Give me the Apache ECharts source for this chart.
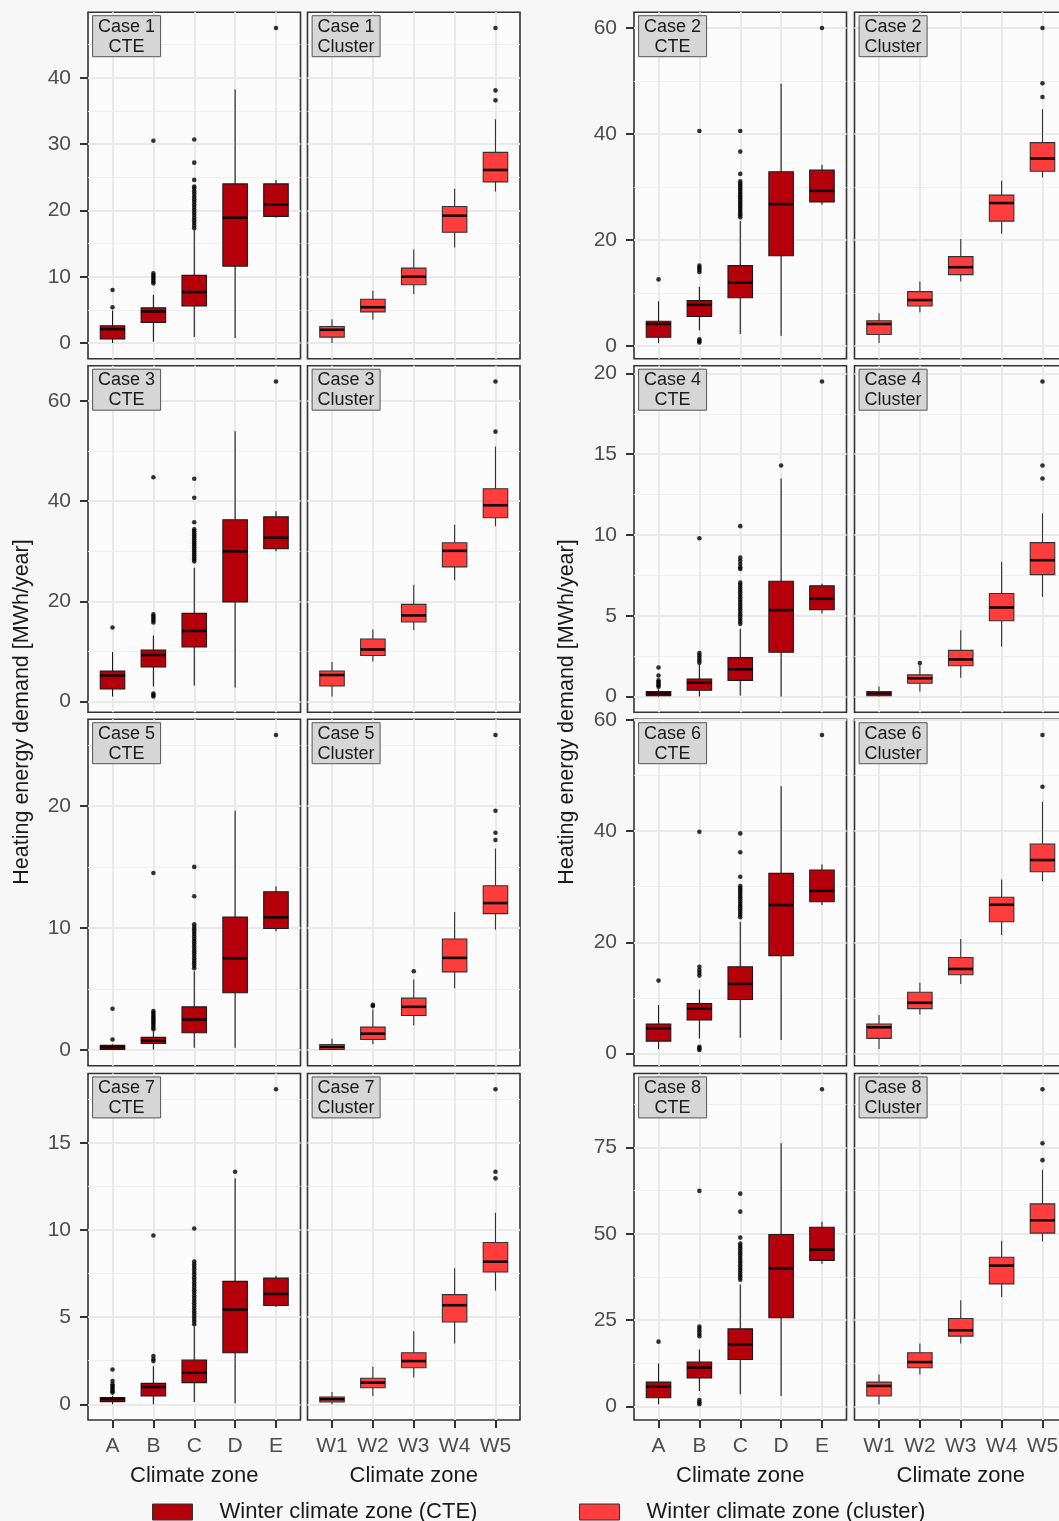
<!DOCTYPE html>
<html>
<head>
<meta charset="utf-8">
<script src="https://cdn.jsdelivr.net/npm/echarts@6/dist/echarts.min.js"></script>
<style>
  html, body { margin: 0; padding: 0; background: #f7f7f7; }
  #chart { width: 1059px; height: 1521px; }
</style>
</head>
<body>
<div id="chart"></div>
<script>
// ---- Categories --------------------------------------------------------
const zonesCTE = ['A', 'B', 'C', 'D', 'E'];
const zonesCluster = ['W1', 'W2', 'W3', 'W4', 'W5'];

// ---- Heating energy demand [MWh/year] ----------------------------------
// Boxes: [lower whisker, Q1, median, Q3, upper whisker] per climate zone.
// Outliers: one list of points per climate zone.

const case1CteBoxes = [[0.0, 0.6, 2.1, 2.6, 4.9], [0.2, 3.1, 4.75, 5.3, 7.3], [0.9, 5.6, 7.7, 10.2, 17.0], [0.75, 11.6, 18.9, 24.0, 38.25], [18.9, 19.1, 20.9, 24.0, 24.6]];
const case1CteOutliers = [[5.4, 8.0], [9.0, 9.3, 9.6, 9.9, 10.2, 10.5, 30.5], [17.3, 17.7, 18.1, 18.5, 18.9, 19.3, 19.7, 20.1, 20.5, 20.9, 21.3, 21.7, 22.1, 22.5, 22.9, 23.3, 23.6, 24.6, 27.2, 30.7], [], [47.5]];
const case1ClusterBoxes = [[0.0, 0.9, 2.0, 2.5, 3.6], [3.5, 4.7, 5.4, 6.6, 7.9], [7.4, 8.8, 10.0, 11.3, 14.1], [14.4, 16.7, 19.2, 20.6, 23.25], [22.85, 24.3, 26.1, 28.75, 33.75]];
const case1ClusterOutliers = [[], [], [], [], [36.6, 38.1, 47.5]];

const case2CteBoxes = [[0.6, 1.7, 4.2, 4.7, 8.5], [3.0, 5.6, 7.8, 8.6, 11.2], [2.3, 9.15, 12.0, 15.2, 23.6], [2.0, 17.05, 26.8, 32.9, 49.5], [26.7, 27.2, 29.3, 33.2, 34.2]];
const case2CteOutliers = [[12.6], [0.7, 1.0, 1.3, 14.0, 14.4, 14.8, 15.2, 40.6], [24.3, 24.7, 25.1, 25.5, 25.9, 26.3, 26.7, 27.1, 27.5, 27.9, 28.3, 28.7, 29.1, 29.5, 29.9, 30.3, 30.7, 31.1, 32.5, 36.7, 40.6], [], [60.0]];
const case2ClusterBoxes = [[0.6, 2.2, 4.2, 4.8, 6.2], [6.4, 7.6, 8.7, 10.3, 12.2], [12.2, 13.5, 14.9, 16.9, 20.2], [21.25, 23.6, 27.0, 28.5, 31.2], [31.8, 33.0, 35.4, 38.4, 44.7]];
const case2ClusterOutliers = [[], [], [], [], [47.0, 49.6, 60.0]];

const case3CteBoxes = [[1.0, 2.5, 5.2, 6.1, 9.9], [3.0, 6.9, 9.3, 10.3, 13.2], [3.2, 10.9, 14.1, 17.6, 26.7], [2.8, 19.9, 30.0, 36.3, 54.0], [30.0, 30.5, 32.7, 36.9, 38.0]];
const case3CteOutliers = [[14.8], [1.0, 1.3, 1.6, 15.8, 16.2, 16.6, 17.0, 17.4, 44.8], [28.0, 28.4, 28.8, 29.2, 29.6, 30.0, 30.4, 30.8, 31.2, 31.6, 32.0, 32.4, 32.8, 33.2, 33.6, 34.0, 34.4, 35.8, 40.7, 44.5], [], [63.9]];
const case3ClusterBoxes = [[1.0, 3.1, 5.3, 6.1, 7.9], [8.0, 9.2, 10.4, 12.5, 14.4], [14.3, 15.9, 17.2, 19.4, 23.3], [24.2, 26.9, 30.1, 31.7, 35.3], [35.0, 36.7, 39.2, 42.5, 50.9]];
const case3ClusterOutliers = [[], [], [], [], [53.9, 63.9]];

const case4CteBoxes = [[0.0, 0.06, 0.19, 0.31, 0.45], [0.0, 0.39, 0.86, 1.09, 2.0], [0.06, 1.0, 1.69, 2.41, 4.2], [0.0, 2.74, 5.35, 7.14, 13.5], [5.14, 5.37, 6.05, 6.85, 6.98]];
const case4CteOutliers = [[0.6, 0.7, 0.8, 0.9, 1.0, 1.3, 1.8], [2.1, 2.25, 2.4, 2.55, 2.7, 9.8], [4.5, 4.65, 4.8, 4.95, 5.1, 5.25, 5.4, 5.55, 5.7, 5.85, 6.0, 6.15, 6.3, 6.45, 6.6, 6.75, 6.9, 7.05, 7.9, 8.0, 8.2, 8.4, 8.6, 10.55], [14.3], [19.5]];
const case4ClusterBoxes = [[0.0, 0.06, 0.19, 0.31, 0.62], [0.31, 0.82, 1.13, 1.34, 1.95], [1.17, 1.91, 2.3, 2.86, 4.1], [3.09, 4.69, 5.51, 6.38, 8.33], [6.17, 7.55, 8.44, 9.53, 11.34]];
const case4ClusterOutliers = [[], [2.08], [], [], [13.5, 14.3, 19.5]];

const case5CteBoxes = [[0.0, 0.05, 0.22, 0.38, 0.46], [0.05, 0.54, 0.76, 1.04, 1.55], [0.19, 1.42, 2.5, 3.54, 6.46], [0.19, 4.69, 7.52, 10.9, 19.6], [9.73, 9.95, 10.87, 12.97, 13.4]];
const case5CteOutliers = [[0.87, 3.38], [1.7, 1.85, 2.0, 2.15, 2.3, 2.45, 2.6, 2.75, 2.9, 3.05, 3.2, 14.5], [6.7, 6.9, 7.1, 7.3, 7.5, 7.7, 7.9, 8.1, 8.3, 8.5, 8.7, 8.9, 9.1, 9.3, 9.5, 9.7, 9.9, 10.1, 10.3, 12.6, 15.0], [], [25.8]];
const case5ClusterBoxes = [[0.0, 0.05, 0.25, 0.46, 0.93], [0.49, 0.87, 1.34, 1.88, 3.32], [2.04, 2.83, 3.54, 4.25, 5.78], [5.07, 6.4, 7.55, 9.1, 11.3], [9.86, 11.17, 12.04, 13.46, 16.5]];
const case5ClusterOutliers = [[], [3.6, 3.7], [6.46], [], [17.2, 17.8, 19.6, 25.8]];

const case6CteBoxes = [[0.8, 2.2, 4.5, 5.3, 8.7], [2.7, 6.0, 8.06, 8.96, 11.5], [2.8, 9.7, 12.5, 15.6, 23.7], [2.4, 17.6, 26.7, 32.4, 48.1], [26.7, 27.3, 29.25, 33.0, 34.0]];
const case6CteOutliers = [[13.1], [0.6, 0.9, 1.2, 14.0, 14.5, 15.0, 15.6, 39.9], [24.5, 24.9, 25.3, 25.7, 26.1, 26.5, 26.9, 27.3, 27.7, 28.1, 28.5, 28.9, 29.3, 29.7, 30.1, 31.8, 36.2, 39.6], [], [57.3]];
const case6ClusterBoxes = [[0.8, 2.7, 4.7, 5.3, 6.9], [7.0, 8.06, 9.1, 11.0, 12.7], [12.5, 14.15, 15.2, 17.25, 20.6], [21.3, 23.7, 26.75, 28.1, 31.3], [31.0, 32.7, 34.8, 37.7, 45.3]];
const case6ClusterOutliers = [[], [], [], [], [48.0, 57.3]];

const case7CteBoxes = [[0.0, 0.15, 0.29, 0.38, 0.48], [0.0, 0.48, 0.99, 1.2, 2.19], [0.13, 1.24, 1.81, 2.54, 4.48], [0.06, 2.96, 5.44, 7.06, 12.98], [5.59, 5.67, 6.34, 7.25, 7.39]];
const case7CteOutliers = [[0.67, 0.75, 0.85, 0.95, 1.05, 1.15, 1.34, 2.0], [2.48, 2.6, 2.77, 9.7], [4.6, 4.75, 4.9, 5.05, 5.2, 5.35, 5.5, 5.65, 5.8, 5.95, 6.1, 6.25, 6.4, 6.55, 6.7, 6.85, 7.0, 7.15, 7.3, 7.45, 7.6, 7.75, 7.9, 8.05, 8.2, 10.1], [13.36], [18.1]];
const case7ClusterBoxes = [[0.0, 0.13, 0.29, 0.42, 0.71], [0.48, 0.95, 1.24, 1.49, 2.16], [1.53, 2.1, 2.48, 2.96, 4.2], [3.49, 4.73, 5.69, 6.3, 7.82], [6.53, 7.6, 8.19, 9.29, 11.0]];
const case7ClusterOutliers = [[], [], [], [], [12.98, 13.36, 18.1]];

const case8CteBoxes = [[0.7, 2.6, 5.8, 7.1, 12.5], [4.5, 8.3, 11.3, 12.9, 16.5], [3.6, 13.65, 18.0, 22.5, 35.3], [3.1, 25.7, 40.0, 49.8, 76.2], [41.3, 42.3, 45.4, 51.9, 53.5]];
const case8CteOutliers = [[18.8], [0.7, 1.3, 1.9, 20.4, 21.1, 21.8, 22.5, 23.2, 62.4], [36.7, 37.4, 38.1, 38.8, 39.5, 40.2, 40.9, 41.6, 42.3, 43.0, 43.7, 44.4, 45.1, 45.8, 46.5, 47.2, 48.9, 56.4, 61.6], [], [91.8]];
const case8ClusterBoxes = [[0.7, 3.1, 6.0, 7.1, 9.3], [9.3, 11.25, 12.9, 15.6, 18.3], [18.3, 20.4, 22.1, 25.5, 30.8], [31.7, 35.5, 40.8, 43.2, 48.0], [47.8, 50.2, 53.9, 58.65, 68.5]];
const case8ClusterOutliers = [[], [], [], [], [71.3, 76.2, 91.8]];

// ---- Y tick labels per case --------------------------------------------
const case1Ticks = [0, 10, 20, 30, 40];
const case2Ticks = [0, 20, 40, 60];
const case3Ticks = [0, 20, 40, 60];
const case4Ticks = [0, 5, 10, 15, 20];
const case5Ticks = [0, 10, 20];
const case6Ticks = [0, 20, 40, 60];
const case7Ticks = [0, 5, 10, 15];
const case8Ticks = [0, 25, 50, 75];

const seriesNames = { cte: 'Winter climate zone (CTE)', cluster: 'Winter climate zone (cluster)' };

const cases = [
  { name: 'Case 1', cte: [case1CteBoxes, case1CteOutliers], cluster: [case1ClusterBoxes, case1ClusterOutliers], ticks: case1Ticks },
  { name: 'Case 2', cte: [case2CteBoxes, case2CteOutliers], cluster: [case2ClusterBoxes, case2ClusterOutliers], ticks: case2Ticks },
  { name: 'Case 3', cte: [case3CteBoxes, case3CteOutliers], cluster: [case3ClusterBoxes, case3ClusterOutliers], ticks: case3Ticks },
  { name: 'Case 4', cte: [case4CteBoxes, case4CteOutliers], cluster: [case4ClusterBoxes, case4ClusterOutliers], ticks: case4Ticks },
  { name: 'Case 5', cte: [case5CteBoxes, case5CteOutliers], cluster: [case5ClusterBoxes, case5ClusterOutliers], ticks: case5Ticks },
  { name: 'Case 6', cte: [case6CteBoxes, case6CteOutliers], cluster: [case6ClusterBoxes, case6ClusterOutliers], ticks: case6Ticks },
  { name: 'Case 7', cte: [case7CteBoxes, case7CteOutliers], cluster: [case7ClusterBoxes, case7ClusterOutliers], ticks: case7Ticks },
  { name: 'Case 8', cte: [case8CteBoxes, case8CteOutliers], cluster: [case8ClusterBoxes, case8ClusterOutliers], ticks: case8Ticks }
];

// ---- Look -----------------------------------------------------------------
const FONT = 'Liberation Sans, Arial, Helvetica, sans-serif';
const FILL = { cte: '#B5000B', cluster: '#FF3D3D' };
const PANEL_BG = '#fbfbfb';
const GRID_MAJOR = '#e9e9e9';
const GRID_MINOR = '#efefef';
const BOX_WIDTH = 0.6;          // in category units
const PANEL_W = 212.5;
const PANEL_H = 346.5;
const ROW_TOPS = [12.3, 365.8, 719.3, 1073.5];
const PANEL_LEFTS = [[88, 307.5], [634, 854.5]];
const xPositions = [1, 2, 3, 4, 5];

function boxRenderer(fill, edge) {
  return function (params, api) {
    const x = api.value(0);
    const pLo = api.coord([x, api.value(1)]);
    const pQ1 = api.coord([x, api.value(2)]);
    const pMed = api.coord([x, api.value(3)]);
    const pQ3 = api.coord([x, api.value(4)]);
    const pHi = api.coord([x, api.value(5)]);
    const half = api.size([BOX_WIDTH, 0])[0] / 2;
    return {
      type: 'group',
      children: [
        { type: 'line', shape: { x1: pHi[0], y1: pHi[1], x2: pQ3[0], y2: pQ3[1] }, style: { stroke: edge, lineWidth: 1.1 } },
        { type: 'line', shape: { x1: pQ1[0], y1: pQ1[1], x2: pLo[0], y2: pLo[1] }, style: { stroke: edge, lineWidth: 1.1 } },
        { type: 'rect', shape: { x: pQ3[0] - half, y: pQ3[1], width: half * 2, height: pQ1[1] - pQ3[1] }, style: { fill: fill, stroke: edge, lineWidth: 1.1 } },
        { type: 'line', shape: { x1: pMed[0] - half, y1: pMed[1], x2: pMed[0] + half, y2: pMed[1] }, style: { stroke: '#140000', lineWidth: 2.6 } }
      ]
    };
  };
}

const grids = [], xAxes = [], yAxes = [], series = [], graphics = [];

cases.forEach(function (c, ci) {
  const row = Math.floor(ci / 2);
  const side = ci % 2;
  const bottomRow = row === 3;

  // shared y range for the CTE/cluster pair, padded 5% on both sides
  let lo = Infinity, hi = -Infinity;
  [c.cte, c.cluster].forEach(function (pair) {
    pair[0].forEach(function (b) { lo = Math.min(lo, b[0]); hi = Math.max(hi, b[4]); });
    pair[1].forEach(function (list) { list.forEach(function (v) { lo = Math.min(lo, v); hi = Math.max(hi, v); }); });
  });
  const span = hi - lo;
  const yMin = lo - 0.05 * span;
  const yMax = hi + 0.05 * span;

  const step = c.ticks[1] - c.ticks[0];
  const minor = [];
  for (let v = c.ticks[0] - step / 2; v <= yMax; v += step) {
    if (v >= yMin) minor.push(v);
  }

  ['cte', 'cluster'].forEach(function (kind, ki) {
    const gi = grids.length;
    const left = PANEL_LEFTS[side][ki];
    const top = ROW_TOPS[row];
    const names = kind === 'cte' ? zonesCTE : zonesCluster;
    const pair = c[kind];

    grids.push({
      left: left, top: top, width: PANEL_W, height: PANEL_H,
      show: true, backgroundColor: PANEL_BG, borderColor: '#333333', borderWidth: 1.6,
      containLabel: false, outerBoundsMode: 'none'
    });

    xAxes.push({
      gridIndex: gi, type: 'value', min: 0.4, max: 5.6, position: 'bottom',
      axisLine: { show: false, onZero: false },
      axisTick: { show: bottomRow, customValues: xPositions, length: 8, lineStyle: { color: '#333333', width: 2 } },
      axisLabel: {
        show: bottomRow, customValues: xPositions, margin: 16,
        fontFamily: FONT, fontSize: 21, color: '#4d4d4d',
        formatter: function (v) { return names[Math.round(v) - 1]; }
      },
      splitLine: { show: true, lineStyle: { color: GRID_MAJOR, width: 2 } },
      name: bottomRow ? 'Climate zone' : '',
      nameLocation: 'middle', nameGap: 45,
      nameTextStyle: { fontFamily: FONT, fontSize: 22, color: '#1a1a1a' }
    });

    const showY = kind === 'cte';
    yAxes.push({
      gridIndex: gi, type: 'value', min: yMin, max: yMax, position: 'left',
      axisLine: { show: false, onZero: false },
      axisTick: { show: showY, customValues: c.ticks, length: 8, lineStyle: { color: '#333333', width: 2 } },
      axisLabel: { show: showY, customValues: c.ticks, margin: 17, fontFamily: FONT, fontSize: 21, color: '#4d4d4d' },
      splitLine: { show: true, lineStyle: { color: GRID_MAJOR, width: 2 } }
    });
    yAxes.push({
      gridIndex: gi, type: 'value', min: yMin, max: yMax,
      axisLine: { show: false, onZero: false },
      axisTick: { show: false, customValues: minor },
      axisLabel: { show: false, customValues: minor },
      splitLine: { show: true, lineStyle: { color: GRID_MINOR, width: 1 } }
    });

    series.push({
      type: 'custom', name: seriesNames[kind],
      xAxisIndex: gi, yAxisIndex: gi * 2,
      itemStyle: { color: FILL[kind], borderColor: '#333333', borderWidth: 1 },
      encode: { x: 0, y: [1, 2, 3, 4, 5] },
      renderItem: boxRenderer(FILL[kind], kind === 'cte' ? '#1a1a1a' : '#333333'),
      data: pair[0].map(function (b, i) { return [xPositions[i]].concat(b); }),
      z: 2
    });

    const pts = [];
    pair[1].forEach(function (list, i) { list.forEach(function (v) { pts.push([xPositions[i], v]); }); });
    series.push({
      type: 'scatter', xAxisIndex: gi, yAxisIndex: gi * 2,
      symbol: 'circle', symbolSize: 4.6,
      itemStyle: { color: '#000000' },
      data: pts, z: 3, silent: true
    });

    // facet strip label, drawn above the grid lines
    graphics.push({
      type: 'group', x: left + 4.6, y: top + 3.4, z: 100,
      children: [
        { type: 'rect', z: 100, shape: { x: 0, y: 0, width: 68, height: 41 }, style: { fill: '#d6d6d6', stroke: '#555555', lineWidth: 1 } },
        {
          type: 'text', z: 101, x: 34, y: 21,
          style: {
            text: c.name + '\n' + (kind === 'cte' ? 'CTE' : 'Cluster'),
            fontFamily: FONT, fontSize: 18, lineHeight: 20, fill: '#1a1a1a',
            align: 'center', verticalAlign: 'middle', textAlign: 'center', textVerticalAlign: 'middle'
          }
        }
      ]
    });
  });
});

// shared y-axis titles
[22, 567].forEach(function (x) {
  graphics.push({
    type: 'text', x: x, y: 712, rotation: Math.PI / 2, z: 100,
    style: {
      text: 'Heating energy demand [MWh/year]',
      fontFamily: FONT, fontSize: 21.5, fill: '#1a1a1a',
      align: 'center', verticalAlign: 'middle', textAlign: 'center', textVerticalAlign: 'middle'
    }
  });
});

const legendCommon = {
  orient: 'horizontal', itemWidth: 40, itemHeight: 16, selectedMode: false, padding: 0,
  itemStyle: { borderColor: '#333333', borderWidth: 1 },
  textStyle: { fontFamily: FONT, fontSize: 22, color: '#1a1a1a', padding: [0, 0, 0, 22] }
};

const option = {
  animation: false,
  backgroundColor: '#f7f7f7',
  grid: grids,
  xAxis: xAxes,
  yAxis: yAxes,
  series: series,
  graphic: graphics,
  legend: [
    Object.assign({ left: 152, top: 1501, data: [{ name: seriesNames.cte, icon: 'rect' }] }, legendCommon),
    Object.assign({ left: 579, top: 1501, data: [{ name: seriesNames.cluster, icon: 'rect' }] }, legendCommon)
  ]
};

const chart = echarts.init(document.getElementById('chart'), null, { renderer: 'canvas' });
chart.setOption(option);
</script>
</body>
</html>
